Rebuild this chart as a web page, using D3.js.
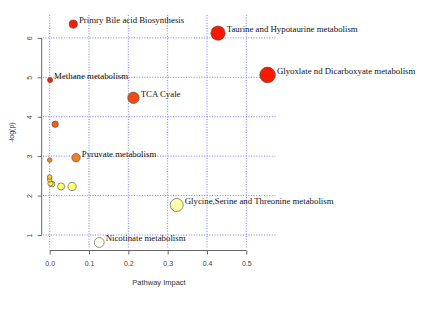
<!DOCTYPE html>
<html>
<head>
<meta charset="utf-8">
<script src="https://cdn.jsdelivr.net/npm/d3@7/dist/d3.min.js"></script>
<style>
  body { margin: 0; background: #fff; }
  .tick text { font-family: "Liberation Sans", Arial, sans-serif; }
</style>
</head>
<body>
<div class="chart"></div>
<script>
// pathway data
const pathways = [
  "Primry Bile acid Biosynthesis",
  "Taurine and Hypotaurine metabolism",
  "Glyoxlate nd Dicarboxyate metabolism",
  "Methane metabolism",
  "TCA Cyale",
  "",
  "Pyruvate metabolism",
  "",
  "",
  "",
  "",
  "",
  "",
  "",
  "Glycine,Serine and Threonine metabolism",
  "Nicotinate metabolism"
];
const impact = [0.060, 0.428, 0.554, 0.001, 0.213, 0.014, 0.067, 0.0, 0.0, 0.0, 0.002, 0.006, 0.029, 0.057, 0.323, 0.126];
const logp   = [6.35, 6.12, 5.06, 4.93, 4.48, 3.81, 2.96, 2.90, 2.47, 2.40, 2.31, 2.29, 2.23, 2.23, 1.76, 0.81];

const xTicks = [0, 0.1, 0.2, 0.3, 0.4, 0.5];
const yTicks = [1, 2, 3, 4, 5, 6];

const data = pathways.map((name, i) => ({name: name, impact: impact[i], logp: logp[i]}));

const width = 427, height = 325;
const plot = {left: 43, right: 277, top: 15, bottom: 249};

const svg = d3.select(".chart")
  .append("svg")
    .attr("width", width)
    .attr("height", height);

const x = d3.scaleLinear()
  .domain([-0.017, 0.578])
  .range([plot.left, plot.right]);
const y = d3.scaleLinear()
  .domain([0.67, 6.58])
  .range([248, plot.top]);

const r = d3.scaleSqrt()
  .domain([0, 0.55])
  .range([2.3, 7.8]);

// heat colours, pale for low -log(p), red for high
const color = d3.scaleLinear()
  .domain([0.8, 1.8, 2.25, 2.35, 3.0, 4.5, 5.0])
  .range(["#fffff2", "#ffffa8", "#ffff70", "#ffe030", "#f07a20", "#f04a12", "#ff1800"])
  .clamp(true);

// dotted blue grid
const grid = svg.append("g")
  .attr("stroke", "#5a5aee")
  .attr("stroke-width", 0.8)
  .attr("stroke-dasharray", "1,1.6");
grid.selectAll("line.v")
  .data(xTicks)
  .join("line")
    .attr("class", "v")
    .attr("x1", d => x(d)).attr("x2", d => x(d))
    .attr("y1", plot.top).attr("y2", plot.bottom);
grid.selectAll("line.h")
  .data(yTicks)
  .join("line")
    .attr("class", "h")
    .attr("x1", plot.left).attr("x2", plot.right)
    .attr("y1", d => y(d)).attr("y2", d => y(d));

// axes, R style: line only spans the ticks
const xAxis = svg.append("g")
  .attr("transform", `translate(0, ${plot.bottom + 1.5})`)
  .call(d3.axisBottom(x).tickValues(xTicks).tickFormat(d3.format(".1f")).tickSize(4).tickPadding(7));
xAxis.select(".domain").remove();
xAxis.append("line")
  .attr("x1", x(0)).attr("x2", x(0.5))
  .attr("stroke", "#666");

const yAxis = svg.append("g")
  .attr("transform", `translate(${plot.left - 1.3}, 0)`)
  .call(d3.axisLeft(y).tickValues(yTicks).tickFormat(d3.format("d")).tickSize(4).tickPadding(8));
yAxis.select(".domain").remove();
yAxis.append("line")
  .attr("y1", y(1)).attr("y2", y(6))
  .attr("stroke", "#666");
yAxis.selectAll(".tick text")
  .attr("transform", "rotate(-90)")
  .attr("x", 0).attr("y", -10)
  .attr("dy", "0")
  .attr("text-anchor", "middle");

svg.selectAll(".tick line").attr("stroke", "#666");
svg.selectAll(".tick text")
  .attr("font-size", 7)
  .attr("fill", "#444");

// axis titles
svg.append("text")
  .attr("x", 159).attr("y", 285)
  .attr("text-anchor", "middle")
  .attr("font-family", "Liberation Sans, Arial, sans-serif")
  .attr("font-size", 7.5)
  .attr("fill", "#333")
  .text("Pathway Impact");
svg.append("text")
  .attr("transform", `translate(14, ${y(3.6)}) rotate(-90)`)
  .attr("text-anchor", "middle")
  .attr("font-family", "Liberation Sans, Arial, sans-serif")
  .attr("font-size", 7)
  .attr("fill", "#333")
  .text("-log(p)");

// bubbles
svg.append("g")
  .selectAll("circle")
  .data(data.slice().reverse())
  .join("circle")
    .attr("cx", d => x(d.impact))
    .attr("cy", d => y(d.logp))
    .attr("r", d => r(d.impact))
    .attr("fill", d => color(d.logp))
    .attr("stroke", "#444")
    .attr("stroke-width", 0.6);

// labels
svg.append("g")
  .selectAll("text")
  .data(data.filter(d => d.name))
  .join("text")
    .attr("x", d => x(d.impact) + r(d.impact) + 1.5)
    .attr("y", d => y(d.logp) - 1)
    .attr("font-family", "Liberation Serif, Times New Roman, serif")
    .attr("font-size", 8.8)
    .attr("fill", "#111")
    .text(d => d.name);
</script>
</body>
</html>
